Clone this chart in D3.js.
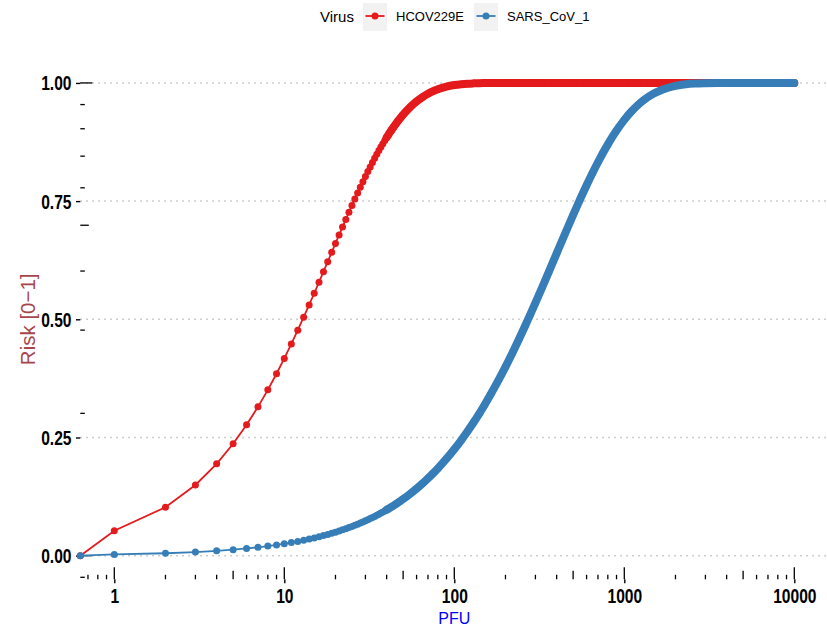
<!DOCTYPE html>
<html>
<head>
<meta charset="utf-8">
<script src="https://cdn.jsdelivr.net/npm/d3@7/dist/d3.min.js"></script>
<style>
  html, body { margin: 0; padding: 0; background: #fff; }
  svg { display: block; }
</style>
</head>
<body>
<div id="chart"></div>
<script>
// Dose (PFU) at which each risk was evaluated; dose 0 sits at the left panel edge on the log axis.
const doses = [0,1,2,3,4,5,6,7,8,9,10,11,12,13,14,15,16,17,18,19,20,21,22,23,24,25,26,27,28,29,30,
  31,32,33,34,35,36,37,38,39,40,41,42,43,44,45,46,47,48,49,50,
  55,60,65,70,75,80,90,100,110,120,130,140,150,165,180,200,220,240,260,280,300,330,360,400,450,500,
  550,600,650,700,800,900,1000,1100,1200,1300,1500,1700,2000,2300,2600,3000,3500,4000,5000,6000,
  7000,8000,9000,10000];

// Infection risk for HCoV-229E at each dose
const hcovRisk = [0,0.0526,0.1024,0.1496,0.1943,0.2366,0.2768,0.3148,0.3508,0.3849,0.4173,0.4479,0.4769,
  0.5044,0.5305,0.5551,0.5785,0.6007,0.6217,0.6416,0.6604,0.6783,0.6952,0.7112,0.7264,0.7408,0.7544,
  0.7673,0.7795,0.7911,0.8021,0.8125,0.8224,0.8317,0.8405,0.8489,0.8569,0.8644,0.8715,0.8783,0.8847,
  0.8907,0.8965,0.9019,0.9071,0.9120,0.9166,0.9210,0.9251,0.9291,0.9328,
  0.9487,0.9608,0.9701,0.9772,0.9826,0.9867,0.9923,0.9955,0.9974,0.9985,0.9991,0.9995,0.9997,0.9999,
  1,1,1,1,1,1,1,1,1,1,1,1,1,1,1,1,1,1,1,1,1,1,1,1,1,1,1,1,1,1,1,1,1,1,1,1,1,1,1];

// Infection risk for SARS-CoV-1 at each dose
const sarsRisk = [0,0.0026,0.0051,0.0076,0.0102,0.0127,0.0152,0.0177,0.0202,0.0227,0.0252,0.0277,0.0301,
  0.0326,0.0351,0.0375,0.0400,0.0424,0.0449,0.0473,0.0497,0.0521,0.0546,0.0570,0.0594,0.0618,0.0642,
  0.0665,0.0689,0.0713,0.0737,0.0760,0.0784,0.0807,0.0831,0.0854,0.0877,0.0900,0.0924,0.0947,0.0970,
  0.0993,0.1016,0.1039,0.1061,0.1084,0.1107,0.1129,0.1152,0.1175,0.1197,
  0.1309,0.1419,0.1527,0.1635,0.1741,0.1845,0.2051,0.2251,0.2446,0.2636,0.2822,0.3002,0.3178,0.3434,
  0.3681,0.3995,0.4294,0.4577,0.4847,0.5103,0.5347,0.5689,0.6007,0.6394,0.6826,0.7206,
  0.7540,0.7835,0.8094,0.8322,0.8700,0.8992,0.9219,0.9395,0.9531,0.9637,0.9782,0.9869,0.9939,0.9972,
  0.9987,0.9995,0.9999,1,1,1,1,1,1,1];

const seriesNames = ["HCOV229E", "SARS_CoV_1"];
const seriesColors = ["#e41a1c", "#377eb8"];
const xTickValues = [1, 10, 100, 1000, 10000];
const xTickLabels = ["1", "10", "100", "1000", "10000"];
const yTickValues = [0, 0.25, 0.5, 0.75, 1];
const yTickLabels = ["0.00", "0.25", "0.50", "0.75", "1.00"];

const W = 827, H = 629;
const panel = { left: 80.3, right: 828.3, top: 59.3, bottom: 579.3 };
const textFont = "'Liberation Sans', Arial, sans-serif";
const narrow = 0.8;  // horizontal squeeze giving the condensed bold tick labels
const dotR = 3.5, bandWidth = 8, bandFrom = 40;

const svg = d3.select("#chart").append("svg").attr("width", W).attr("height", H);

// Log x scale padded by 0.2 decade either side; clamped so dose 0 lands on the left edge.
const x = d3.scaleLog().domain([Math.pow(10, -0.2), Math.pow(10, 4.2)])
  .range([panel.left, panel.right]).clamp(true);
const y = d3.scaleLinear().domain([-0.05, 1.05]).range([panel.bottom, panel.top]);

// Dotted horizontal grid
svg.append("g").selectAll("line").data(yTickValues).join("line")
  .attr("x1", panel.left).attr("x2", W)
  .attr("y1", d => y(d)).attr("y2", d => y(d))
  .attr("stroke", "#bdbdbd").attr("stroke-width", 1.5)
  .attr("stroke-dasharray", "1.5,4.5");

function condense(sel) {
  sel.attr("transform", function () {
    const tx = +this.getAttribute("x") || 0;
    return `translate(${tx},0) scale(${narrow},1) translate(${-tx},0)`;
  });
}

// Y axis: ticks and bold labels
const yAxis = d3.axisLeft(y).tickValues(yTickValues)
  .tickFormat((d, i) => yTickLabels[i]).tickSize(4.3).tickPadding(4.5);
const gy = svg.append("g").attr("transform", `translate(${panel.left},0)`).call(yAxis);
gy.select(".domain").remove();
gy.selectAll(".tick line").attr("stroke", "#000").attr("stroke-width", 1.4);
gy.selectAll(".tick text").attr("fill", "#000").attr("font-family", textFont)
  .attr("font-weight", "bold").attr("font-size", "19.5px").attr("dy", "0.36em").call(condense);

// X axis: decade ticks and labels
const xAxis = d3.axisBottom(x).tickValues(xTickValues)
  .tickFormat((d, i) => xTickLabels[i]).tickSize(4).tickPadding(6);
const gx = svg.append("g").attr("transform", `translate(0,${panel.bottom})`).call(xAxis);
gx.select(".domain").remove();
gx.selectAll(".tick line").attr("stroke", "#000").attr("stroke-width", 1.4);
gx.selectAll(".tick text").attr("fill", "#000").attr("font-family", textFont)
  .attr("font-weight", "bold").attr("font-size", "19.5px").attr("dy", "0.72em").call(condense);

// Log ticks along the bottom (x) and left (y) panel edges
const tickLen = k => (k === 1 ? 12 : k === 5 ? 8.5 : 4.5);
const logTicks = [];
for (let n = -1; n <= 4; n++) for (let k = 1; k <= 9; k++) logTicks.push({ v: k * Math.pow(10, n), k });
const [xd0, xd1] = x.domain();
svg.append("g").selectAll("line")
  .data(logTicks.filter(t => t.v >= xd0 && t.v <= xd1)).join("line")
  .attr("x1", t => x(t.v)).attr("x2", t => x(t.v))
  .attr("y1", panel.bottom).attr("y2", t => panel.bottom - tickLen(t.k))
  .attr("stroke", "#000").attr("stroke-width", 1.3);
const [yd0, yd1] = y.domain();
const yLogTicks = [];
for (let n = -1; n <= 1; n++) for (let k = 1; k <= 9; k++) yLogTicks.push({ v: Math.log10(k * Math.pow(10, n)), k });
svg.append("g").selectAll("line")
  .data(yLogTicks.filter(t => t.v >= yd0 && t.v <= yd1)).join("line")
  .attr("x1", panel.left).attr("x2", t => panel.left + tickLen(t.k))
  .attr("y1", t => y(t.v)).attr("y2", t => y(t.v))
  .attr("stroke", "#000").attr("stroke-width", 1.3);

// Series
const series = seriesNames.map((name, i) => ({
  name, color: seriesColors[i],
  values: doses.map((d, j) => ({ dose: d, risk: (i === 0 ? hcovRisk : sarsRisk)[j] }))
}));

const thinLine = d3.line().x(p => x(p.dose)).y(p => y(p.risk));
const bandLine = d3.line().x(p => x(p.dose)).y(p => y(p.risk)).curve(d3.curveMonotoneX);

series.forEach(s => {
  const g = svg.append("g");
  g.append("path").attr("d", thinLine(s.values))
    .attr("fill", "none").attr("stroke", s.color).attr("stroke-width", 1.8);
  // Past bandFrom the markers sit edge to edge and read as a solid band
  g.append("path").attr("d", bandLine(s.values.filter(p => p.dose >= bandFrom)))
    .attr("fill", "none").attr("stroke", s.color).attr("stroke-width", bandWidth)
    .attr("stroke-linecap", "round").attr("stroke-linejoin", "round");
  g.selectAll("circle").data(s.values).join("circle")
    .attr("cx", p => x(p.dose)).attr("cy", p => y(p.risk)).attr("r", dotR)
    .attr("fill", s.color);
});

// Axis titles
svg.append("text").attr("x", (panel.left + panel.right) / 2).attr("y", 624)
  .attr("text-anchor", "middle").attr("font-family", textFont).attr("font-size", "16px")
  .attr("fill", "#0000ff").text("PFU");
svg.append("text")
  .attr("transform", `translate(34.5,${(panel.top + panel.bottom) / 2}) rotate(-90)`)
  .attr("text-anchor", "middle").attr("font-family", textFont).attr("font-size", "20.5px")
  .attr("fill", "#a8474b").text("Risk [0\u22121]");

// Legend
const legend = svg.append("g");
legend.append("text").attr("x", 320).attr("y", 21.5).attr("font-family", textFont)
  .attr("font-size", "15px").attr("fill", "#000").text("Virus");
const keyX = [363, 474], labelX = [396, 507];
series.forEach((s, i) => {
  const k = legend.append("g").attr("transform", `translate(${keyX[i]},3)`);
  k.append("rect").attr("width", 24).attr("height", 28).attr("fill", "#f2f2f2");
  k.append("line").attr("x1", 2.5).attr("x2", 21.5).attr("y1", 13).attr("y2", 13)
    .attr("stroke", s.color).attr("stroke-width", 1.8);
  k.append("circle").attr("cx", 12).attr("cy", 13).attr("r", dotR).attr("fill", s.color);
  legend.append("text").attr("x", labelX[i]).attr("y", 21).attr("font-family", textFont)
    .attr("font-size", "13px").attr("fill", "#000").text(s.name);
});
</script>
</body>
</html>
